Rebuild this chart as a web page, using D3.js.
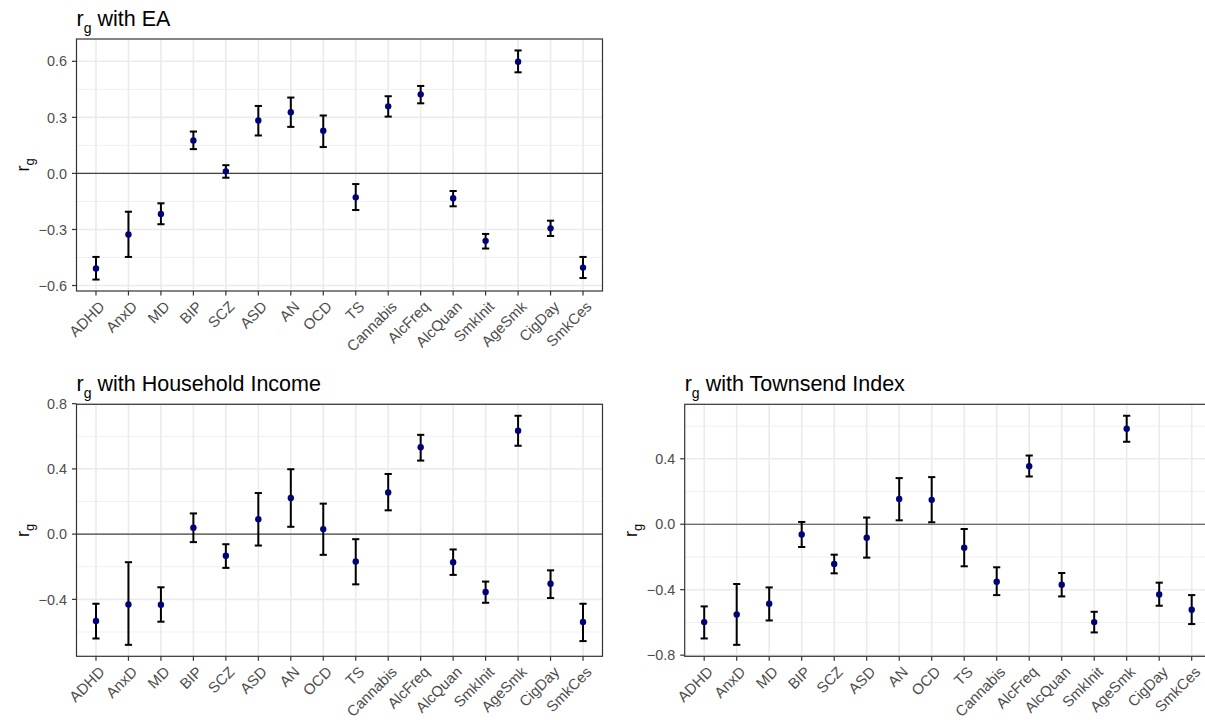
<!DOCTYPE html>
<html>
<head>
<meta charset="utf-8">
<script src="https://cdn.jsdelivr.net/npm/d3@7"></script>
<style>
    body { margin: 0; background: #fff; }
    text { font-family: "Liberation Sans", Arial, sans-serif; }
</style>
</head>
<body>
<div id="chart"></div>
<script>
// trait labels
var traits = ["ADHD", "AnxD", "MD", "BIP", "SCZ", "ASD", "AN", "OCD", "TS", "Cannabis",
    "AlcFreq", "AlcQuan", "SmkInit", "AgeSmk", "CigDay", "SmkCes"];

// rg with EA
var eaRg = [-0.509, -0.327, -0.217, 0.176, 0.011, 0.283, 0.327, 0.228, -0.128, 0.359,
    0.423, -0.133, -0.361, 0.598, -0.294, -0.504];
var eaLo = [-0.568, -0.447, -0.272, 0.130, -0.023, 0.203, 0.249, 0.141, -0.196, 0.304,
    0.375, -0.176, -0.402, 0.541, -0.335, -0.560];
var eaHi = [-0.447, -0.205, -0.160, 0.224, 0.044, 0.361, 0.406, 0.310, -0.057, 0.413,
    0.468, -0.094, -0.324, 0.658, -0.253, -0.447];

// rg with household income
var incRg = [-0.533, -0.431, -0.433, 0.039, -0.133, 0.092, 0.222, 0.031, -0.168, 0.256,
    0.533, -0.172, -0.355, 0.634, -0.304, -0.539];
var incLo = [-0.640, -0.679, -0.537, -0.049, -0.207, -0.070, 0.045, -0.127, -0.308, 0.146,
    0.451, -0.250, -0.421, 0.542, -0.392, -0.656];
var incHi = [-0.427, -0.172, -0.326, 0.127, -0.062, 0.252, 0.398, 0.187, -0.031, 0.369,
    0.609, -0.094, -0.291, 0.726, -0.222, -0.427];

// rg with Townsend index
var tdiRg = [-0.598, -0.551, -0.486, -0.063, -0.243, -0.082, 0.155, 0.149, -0.143, -0.351,
    0.355, -0.369, -0.598, 0.584, -0.429, -0.522];
var tdiLo = [-0.698, -0.737, -0.588, -0.139, -0.300, -0.204, 0.024, 0.012, -0.257, -0.433,
    0.292, -0.441, -0.661, 0.504, -0.498, -0.610];
var tdiHi = [-0.502, -0.365, -0.386, 0.014, -0.186, 0.041, 0.282, 0.288, -0.029, -0.263,
    0.420, -0.298, -0.535, 0.663, -0.357, -0.433];

var eaTicks = [-0.6, -0.3, 0, 0.3, 0.6];
var incTicks = [-0.4, 0, 0.4, 0.8];
var tdiTicks = [-0.8, -0.4, 0, 0.4];

var svgW = 1205;
var svgH = 720;

var svg = d3.select("#chart")
    .append("svg")
    .attr("width", svgW)
    .attr("height", svgH);

drawPanel({ left: 76.5, top: 39, width: 526, height: 252, title: "with EA",
    rg: eaRg, lo: eaLo, hi: eaHi, ticks: eaTicks });
drawPanel({ left: 76.5, top: 404.3, width: 526, height: 252, title: "with Household Income",
    rg: incRg, lo: incLo, hi: incHi, ticks: incTicks });
drawPanel({ left: 684.7, top: 404.3, width: 526.5, height: 252, title: "with Townsend Index",
    rg: tdiRg, lo: tdiLo, hi: tdiHi, ticks: tdiTicks });

function drawPanel(p) {
    var g = svg.append("g")
        .attr("transform", `translate(${p.left}, ${p.top})`);

    var xScale = d3.scalePoint()
        .domain(traits)
        .range([0, p.width])
        .padding(0.6);

    // ggplot style 5% expansion
    var lo = d3.min(p.lo), hi = d3.max(p.hi);
    var pad = (hi - lo) * 0.05;
    var yScale = d3.scaleLinear()
        .domain([lo - pad, hi + pad])
        .range([p.height, 0]);

    var fmt = d3.format(".1f");
    var minor = [];
    var stepT = p.ticks[1] - p.ticks[0];
    for (var i = -1; i < p.ticks.length; i++) {
        var m = p.ticks[0] + stepT * (i + 0.5);
        if (m > yScale.domain()[0] && m < yScale.domain()[1]) minor.push(m);
    }

    // grid
    g.append("g").selectAll("line")
        .data(minor)
        .enter()
        .append("line")
        .attr("x1", 0).attr("x2", p.width)
        .attr("y1", function(d) { return yScale(d) })
        .attr("y2", function(d) { return yScale(d) })
        .attr("stroke", "#f0f0f0")
        .attr("stroke-width", 1);

    g.append("g").selectAll("line")
        .data(p.ticks)
        .enter()
        .append("line")
        .attr("x1", 0).attr("x2", p.width)
        .attr("y1", function(d) { return yScale(d) })
        .attr("y2", function(d) { return yScale(d) })
        .attr("stroke", "#ebebeb")
        .attr("stroke-width", 1.6);

    g.append("g").selectAll("line")
        .data(traits)
        .enter()
        .append("line")
        .attr("x1", function(d) { return xScale(d) })
        .attr("x2", function(d) { return xScale(d) })
        .attr("y1", 0).attr("y2", p.height)
        .attr("stroke", "#ebebeb")
        .attr("stroke-width", 1.6);

    // zero line
    g.append("line")
        .attr("x1", 0).attr("x2", p.width)
        .attr("y1", yScale(0)).attr("y2", yScale(0))
        .attr("stroke", "#444")
        .attr("stroke-width", 1.2);

    // error bars
    var bars = g.append("g").selectAll("g")
        .data(traits)
        .enter()
        .append("g")
        .attr("stroke", "#000")
        .attr("stroke-width", 2);

    bars.append("line")
        .attr("x1", function(d) { return xScale(d) })
        .attr("x2", function(d) { return xScale(d) })
        .attr("y1", function(d, i) { return yScale(p.lo[i]) })
        .attr("y2", function(d, i) { return yScale(p.hi[i]) });

    bars.append("line")
        .attr("x1", function(d) { return xScale(d) - 3.6 })
        .attr("x2", function(d) { return xScale(d) + 3.6 })
        .attr("y1", function(d, i) { return yScale(p.lo[i]) })
        .attr("y2", function(d, i) { return yScale(p.lo[i]) });

    bars.append("line")
        .attr("x1", function(d) { return xScale(d) - 3.6 })
        .attr("x2", function(d) { return xScale(d) + 3.6 })
        .attr("y1", function(d, i) { return yScale(p.hi[i]) })
        .attr("y2", function(d, i) { return yScale(p.hi[i]) });

    g.append("g").selectAll("circle")
        .data(traits)
        .enter()
        .append("circle")
        .attr("cx", function(d) { return xScale(d) })
        .attr("cy", function(d, i) { return yScale(p.rg[i]) })
        .attr("r", 3.2)
        .attr("fill", "#00007a");

    // panel border
    g.append("rect")
        .attr("x", 0).attr("y", 0)
        .attr("width", p.width).attr("height", p.height)
        .attr("fill", "none")
        .attr("stroke", "#333")
        .attr("stroke-width", 1.2);

    // y axis
    var yAx = g.append("g");
    yAx.selectAll("line")
        .data(p.ticks)
        .enter()
        .append("line")
        .attr("x1", -4.5).attr("x2", 0)
        .attr("y1", function(d) { return yScale(d) })
        .attr("y2", function(d) { return yScale(d) })
        .attr("stroke", "#333")
        .attr("stroke-width", 1.2);
    yAx.selectAll("text")
        .data(p.ticks)
        .enter()
        .append("text")
        .attr("x", -9.5)
        .attr("y", function(d) { return yScale(d) })
        .attr("dy", "0.36em")
        .attr("text-anchor", "end")
        .attr("font-size", 14.4)
        .attr("fill", "#4d4d4d")
        .text(function(d) { return fmt(d) });

    // x axis
    var xAx = g.append("g");
    xAx.selectAll("line")
        .data(traits)
        .enter()
        .append("line")
        .attr("x1", function(d) { return xScale(d) })
        .attr("x2", function(d) { return xScale(d) })
        .attr("y1", p.height).attr("y2", p.height + 4.5)
        .attr("stroke", "#333")
        .attr("stroke-width", 1.2);
    xAx.selectAll("text")
        .data(traits)
        .enter()
        .append("text")
        .attr("transform", function(d) { return `translate(${xScale(d) + 2}, ${p.height + 9}) rotate(-45)` })
        .attr("dy", "0.72em")
        .attr("text-anchor", "end")
        .attr("font-size", 15)
        .attr("fill", "#4d4d4d")
        .text(function(d) { return d });

    // y title
    var yt = g.append("text")
        .attr("transform", `translate(-48, ${p.height / 2}) rotate(-90)`)
        .attr("text-anchor", "middle")
        .attr("font-size", 18)
        .attr("fill", "#000");
    yt.append("tspan").text("r");
    yt.append("tspan").attr("dy", 5).attr("font-size", 13).text("g");

    // title
    var tt = g.append("text")
        .attr("x", 0)
        .attr("y", -13)
        .attr("font-size", 21.5)
        .attr("fill", "#000");
    tt.append("tspan").text("r");
    tt.append("tspan").attr("dy", 7).attr("font-size", 14).text("g");
    tt.append("tspan").attr("dy", -7).text(" " + p.title);
}
</script>
</body>
</html>
